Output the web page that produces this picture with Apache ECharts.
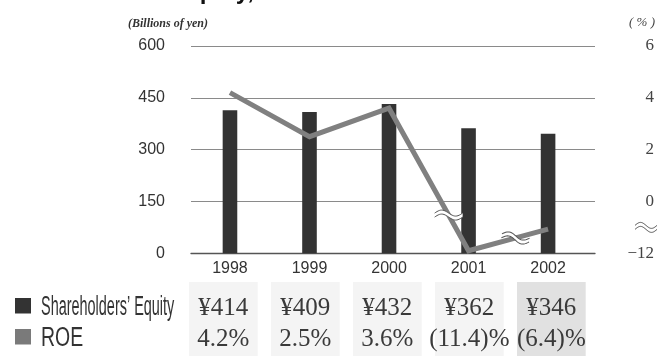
<!DOCTYPE html>
<html>
<head>
<meta charset="utf-8">
<script src="https://cdn.jsdelivr.net/npm/echarts@6/dist/echarts.min.js"></script>
<style>
  html, body { margin: 0; padding: 0; background: #fff; }
  #chart { width: 658px; height: 356px; }
</style>
</head>
<body>
<div id="chart"></div>
<script>
// Fiscal years and values
const years = [1998, 1999, 2000, 2001, 2002];
const equity = [414, 409, 432, 362, 346];      // billions of yen
const roe = [4.2, 2.5, 3.6, -11.4, -6.4];      // percent
const equityTicks = [0, 150, 300, 450, 600];
const roeTicks = [-12, 0, 2, 4, 6];

// The ROE axis is broken below zero: the 0 .. -12 range is squeezed
// into a single 2-point band at the bottom of the scale.
const NEG_SQUEEZE = 6;
const roeToAxis = v => (v >= 0 ? v : v / NEG_SQUEEZE);
const axisToRoe = t => (t >= 0 ? t : t * NEG_SQUEEZE);

const SANS = '"Liberation Sans", Arial, sans-serif';
const SERIF = '"Liberation Serif", "Times New Roman", serif';
const TEXT = '#333';

const fmtEquity = v => '\u00a5' + v;
const fmtRoe = v => (v < 0 ? '(' + Math.abs(v).toFixed(1) + ')%' : v.toFixed(1) + '%');
const fmtRoeTick = t => {
  const r = Math.round(axisToRoe(t));
  return r < 0 ? '\u2212' + Math.abs(r) : String(r);
};

const chart = echarts.init(document.getElementById('chart'), null, { renderer: 'canvas' });

chart.setOption({
  animation: false,
  backgroundColor: '#fff',
  grid: { left: 191, right: 63, top: 46, bottom: 102.7, containLabel: false },
  xAxis: {
    type: 'value',
    min: 1997.51,
    max: 2002.59,
    axisLine: { show: true, lineStyle: { color: '#555', width: 1.3 } },
    axisTick: { show: false },
    splitLine: { show: false },
    axisLabel: {
      customValues: years,
      formatter: v => String(v),
      margin: 7,
      fontFamily: SANS,
      fontSize: 16,
      color: TEXT
    }
  },
  yAxis: [
    {
      type: 'value',
      min: equityTicks[0],
      max: equityTicks[equityTicks.length - 1],
      interval: equityTicks[1] - equityTicks[0],
      axisLine: { show: false },
      axisTick: { show: false },
      splitLine: { show: true, lineStyle: { color: '#8a8a8a', width: 1.2 } },
      axisLabel: {
        margin: 26,
        fontFamily: SANS,
        fontSize: 16,
        color: TEXT,
        showMinLabel: true,
        showMaxLabel: true
      }
    },
    {
      type: 'value',
      min: roeToAxis(roeTicks[0]),
      max: roeToAxis(roeTicks[roeTicks.length - 1]),
      interval: 2,
      axisLine: { show: false },
      axisTick: { show: false },
      splitLine: { show: false },
      axisLabel: {
        align: 'right',
        margin: 59,
        fontFamily: SERIF,
        fontSize: 17,
        color: '#444',
        formatter: fmtRoeTick,
        showMinLabel: true,
        showMaxLabel: true
      }
    }
  ],
  series: [
    {
      name: "Shareholders' Equity",
      type: 'bar',
      yAxisIndex: 0,
      barWidth: 14.6,
      itemStyle: { color: '#333' },
      data: years.map((y, i) => [y, equity[i]])
    },
    {
      name: 'ROE',
      type: 'line',
      yAxisIndex: 1,
      showSymbol: false,
      symbol: 'none',
      lineStyle: { color: '#808080', width: 5, join: 'miter' },
      data: years.map((y, i) => [y, roeToAxis(roe[i])])
    }
  ]
});

// Break mark: two parallel wavy strokes with a white band between them
function breakMark(cx, cy, rot, half) {
  const amp = 3, gap = 4, steps = 24;
  const upper = [], lower = [];
  for (let s = 0; s <= steps; s++) {
    const x = -half + (2 * half * s) / steps;
    const y = -amp * Math.sin(Math.PI * (x + half) / half);
    upper.push([x, y - gap / 2]);
    lower.push([x, y + gap / 2]);
  }
  const band = upper.concat(lower.slice().reverse());
  return {
    type: 'group', x: cx, y: cy, rotation: rot, z: 100,
    children: [
      { type: 'polygon', z: 100, shape: { points: band }, style: { fill: '#fff', stroke: null } },
      { type: 'polyline', z: 101, shape: { points: upper }, style: { fill: null, stroke: '#555', lineWidth: 1 } },
      { type: 'polyline', z: 101, shape: { points: lower }, style: { fill: null, stroke: '#555', lineWidth: 1 } }
    ]
  };
}

// Point along the ROE line between two years
function alongLine(i, frac) {
  const a = chart.convertToPixel({ seriesIndex: 1 }, [years[i], roeToAxis(roe[i])]);
  const b = chart.convertToPixel({ seriesIndex: 1 }, [years[i + 1], roeToAxis(roe[i + 1])]);
  return [a[0] + (b[0] - a[0]) * frac, a[1] + (b[1] - a[1]) * frac];
}

const m1 = alongLine(2, 0.75);
const m2 = alongLine(3, 0.59);
const axisBreakY = chart.convertToPixel({ yAxisIndex: 1 }, roeToAxis(-6));

// Data table below the plot
const tableLeft = 189, cellPitch = 82, cellWidth = 68.7, tableTop = 282;
const rowEquityY = 308, rowRoeY = 339;

const graphics = [];

graphics.push({
  type: 'text', x: 10, y: -8,
  style: { text: "Shareholders' Equity, ROE", font: 'bold 24px ' + SANS,
           fill: '#111', align: 'left', verticalAlign: 'middle' }
});
graphics.push({
  type: 'text', x: 168, y: 24,
  style: { text: '(Billions of yen)', font: 'italic bold 12px ' + SERIF, fill: '#333',
           align: 'center', verticalAlign: 'middle' }
});
graphics.push({
  type: 'text', x: 655, y: 22.5,
  style: { text: '( % )', font: 'italic 13px ' + SERIF, fill: '#444',
           align: 'right', verticalAlign: 'middle' }
});

years.forEach((y, i) => {
  const left = tableLeft + i * cellPitch;
  const cx = left + cellWidth / 2;
  graphics.push({
    type: 'rect', shape: { x: left, y: tableTop, width: cellWidth, height: 90 },
    style: { fill: i === years.length - 1 ? '#e1e1e1' : '#f4f4f4' }
  });
  graphics.push({
    type: 'text', x: cx, y: rowEquityY, z: 5,
    style: { text: fmtEquity(equity[i]), font: '25px ' + SERIF, fill: '#3a3a3a',
             align: 'center', verticalAlign: 'middle' }
  });
  graphics.push({
    type: 'text', x: cx, y: rowRoeY, z: 5,
    style: { text: fmtRoe(roe[i]), font: '25px ' + SERIF, fill: '#3a3a3a',
             align: 'center', verticalAlign: 'middle' }
  });
});

// Legend
graphics.push({ type: 'rect', shape: { x: 15, y: 298, width: 16, height: 15.5 }, style: { fill: '#333' } });
graphics.push({ type: 'rect', shape: { x: 15, y: 329, width: 16, height: 15.5 }, style: { fill: '#7a7a7a' } });
graphics.push({
  type: 'text', x: 41, y: 308, scaleX: 0.535,
  style: { text: "Shareholders\u2019 Equity", font: '27px ' + SANS, fill: '#333',
           align: 'left', verticalAlign: 'middle' }
});
graphics.push({
  type: 'text', x: 41, y: 339, scaleX: 0.72,
  style: { text: 'ROE', font: '27px ' + SANS, fill: '#333',
           align: 'left', verticalAlign: 'middle' }
});

// Break marks on the ROE line and on its axis
graphics.push(breakMark(m1[0], m1[1], 0, 14));
graphics.push(breakMark(m2[0], m2[1], -0.15, 14));
graphics.push(breakMark(646, axisBreakY, 0, 11));

chart.setOption({ graphic: graphics });
</script>
</body>
</html>
